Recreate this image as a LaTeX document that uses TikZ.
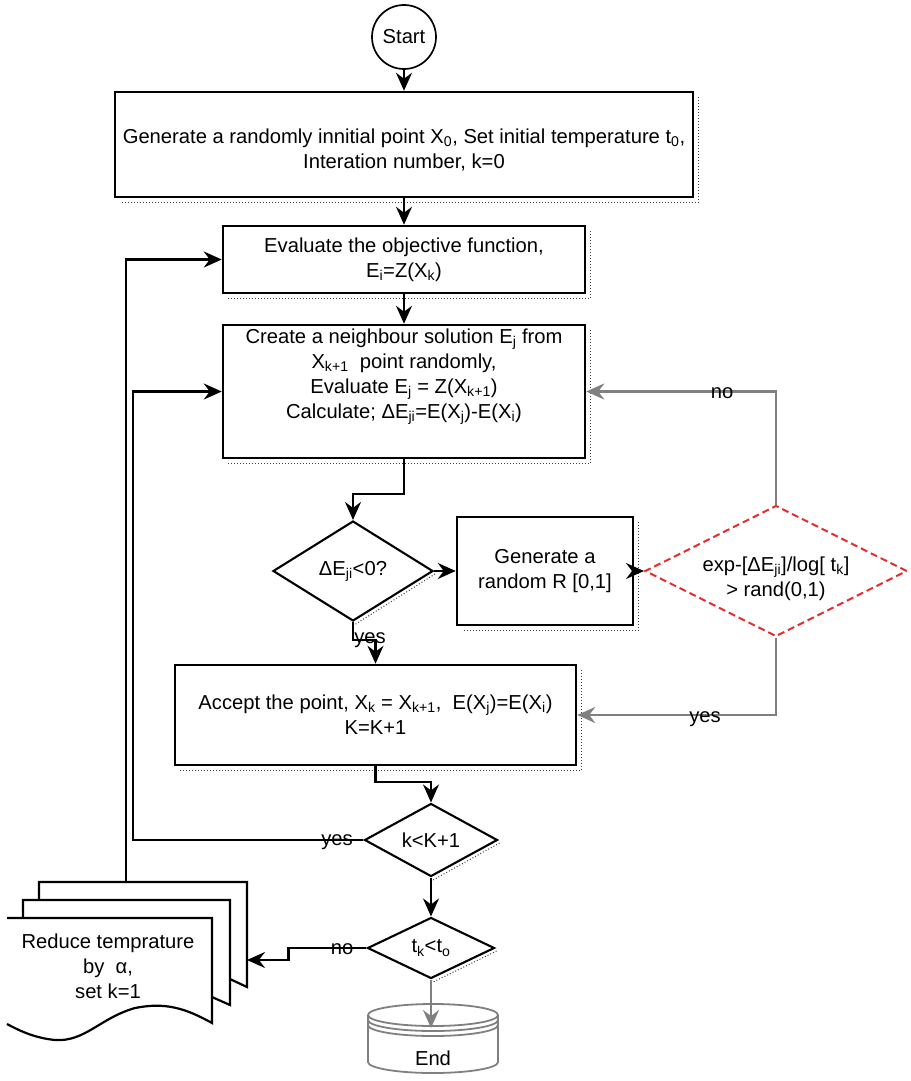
\documentclass[tikz,border=0pt]{standalone}
\usepackage{fontspec}
\setmainfont{Liberation Sans}
\usetikzlibrary{shapes.geometric,arrows.meta,calc}
\definecolor{dred}{RGB}{228,45,45}
\definecolor{lgray}{RGB}{128,128,128}
\newcommand\boxshadow[1]{\draw[shadowl] ($(#1.north east)+(4,6)$) -- ($(#1.south east)+(4,4)$) -- ($(#1.south west)+(6,4)$);}
\newcommand\diashadow[1]{\draw[shadowl] ($(#1.east)+(1,3)$) -- ($(#1.south)+(1,3)$);}
\begin{document}
\begin{tikzpicture}[x=1pt,y=-1pt,
  font=\fontsize{20.2}{25}\selectfont,
  box/.style={draw, line width=2.5pt, rectangle, inner sep=0pt, align=center},
  dia/.style={draw, line width=2.1pt, diamond, inner sep=0pt, align=center},
  conn/.style={line width=2.2pt, -{Stealth[length=18pt,width=16pt,inset=6pt]}},
  gconn/.style={conn, draw=lgray, line width=2.4pt},
  docl/.style={line width=2.2pt, line join=miter},
  cyl/.style={draw=lgray, line width=1.8pt},
  shadowl/.style={dotted, line width=1pt, black!75},
  lbl/.style={inner sep=1pt}
]
\useasboundingbox (0,0) rectangle (910,1081);

% nodes
\node[circle, draw, line width=1.7pt, minimum size=64pt, inner sep=0pt] (start) at (404,37) {Start};
\node[box, minimum width=578pt, minimum height=105pt] (b1) at (404,144.5) {};
\node (b1t) at (404,149.5) [align=center] {Generate a randomly innitial point X\textsubscript{0}, Set initial temperature t\textsubscript{0},\\Interation number, k=0};
\node[box, minimum width=362pt, minimum height=67pt] (b2) at (404,259.5) {Evaluate the objective function,\\E\textsubscript{i}=Z(X\textsubscript{k})};
\node[box, minimum width=362pt, minimum height=133pt] (b3) at (404,391.5) {};
\node (b3t) at (404,377) [align=center] {Create a neighbour solution E\textsubscript{j} from\\X\textsubscript{k+1} \ point randomly,\\Evaluate E\textsubscript{j} = Z(X\textsubscript{k+1})\\Calculate; ΔE\textsubscript{ji}=E(X\textsubscript{j})-E(X\textsubscript{i})};
\node[dia, minimum width=160pt, minimum height=100pt] (d1) at (353,571) {ΔE\textsubscript{ji}<0?};
\node[box, minimum width=176pt, minimum height=108pt] (b4) at (545,571) {Generate a\\random R [0,1]};
\node[diamond, draw=dred, dashed, dash pattern=on 7pt off 4pt, line width=2pt, inner sep=0pt, minimum width=262pt, minimum height=131pt] (d2) at (776,571) {};
\node (d2t) at (776,579) [align=center] {exp-[ΔE\textsubscript{ji}]/log[ t\textsubscript{k}]\\> rand(0,1)};
\node[box, minimum width=401pt, minimum height=100pt] (b5) at (375.5,715) {Accept the point, X\textsubscript{k} = X\textsubscript{k+1}, \ E(X\textsubscript{j})=E(X\textsubscript{i})\\K=K+1};
\node[dia, minimum width=133pt, minimum height=62pt] (d3) at (431,840) {k<K+1};
\node[dia, minimum width=127pt, minimum height=61pt] (d4) at (431,948) {t\textsubscript{k}<t\textsubscript{o}};

% shadows
\boxshadow{b1}
\boxshadow{b2}
\boxshadow{b3}
\boxshadow{b4}
\boxshadow{b5}
\diashadow{d1}
\diashadow{d3}
\diashadow{d4}

% document stack
\draw[docl] (39,899) -- (39,882) -- (247,882) -- (247,987) -- (230,979);
\draw[docl] (23,918) -- (23,900) -- (230,900) -- (230,1005) -- (212,997);
\draw[docl] (7,918) -- (212,918) -- (212,1023) .. controls (185,1008) and (165,1002) .. (135,1008) .. controls (100,1018) and (85,1042) .. (55,1040) .. controls (35,1038) and (20,1031) .. (7,1024);
\node (doct) at (108,966) [align=center] {Reduce temprature\\by \ α,\\set k=1};
\coordinate (doctop) at (126,882);
\coordinate (docR) at (247,960);

% end cylinder
\draw[cyl] (368,1015) -- (368,1062) arc[start angle=180, end angle=0, x radius=65, y radius=11] -- (498,1015);
\draw[cyl] (433,1015) ellipse[x radius=65, y radius=11];
\draw[cyl] (368,1020) arc[start angle=180, end angle=0, x radius=65, y radius=11];
\draw[cyl] (368,1025) arc[start angle=180, end angle=0, x radius=65, y radius=11];
\node (endt) at (433,1058) {End};
\coordinate (endtip) at (431,1028);

% connectors
\draw[conn] (start) -- (b1);
\draw[conn] (b1) -- (b2);
\draw[conn] (b2) -- (b3);
\draw[conn] (b3.south) -- ++(0,35) -| (d1.north);
\draw[conn] (d1) -- (b4);
\draw[conn] (b4) -- (d2);
\draw[gconn] (d2.north) |- (b3.east);
\draw[gconn] (d2.south) |- (b5.east);
\draw[conn] (d1.south) -- ++(0,18) -| (b5.north);
\draw[conn] (b5.south) -- ++(0,16) -| (d3.north);
\draw[conn] (d3.west) -- ++(-230.5,0) |- (b3.west);
\draw[conn] (doctop) |- (b2.west);
\draw[conn] (d3) -- (d4);
\draw[conn] (d4.west) -- ++(-78,0) -- ++(0,12) -- (docR);
\draw[gconn] (d4.south) -- (endtip);

% labels
\node[lbl] (lno1) at (722,393) {no};
\node[lbl] (lyes1) at (705,719) {yes};
\node[lbl] (lyes2) at (370,640) {yes};
\node[lbl] (lyes3) at (337,842) {yes};
\node[lbl] (lno2) at (342,949) {no};
\end{tikzpicture}
\end{document}
